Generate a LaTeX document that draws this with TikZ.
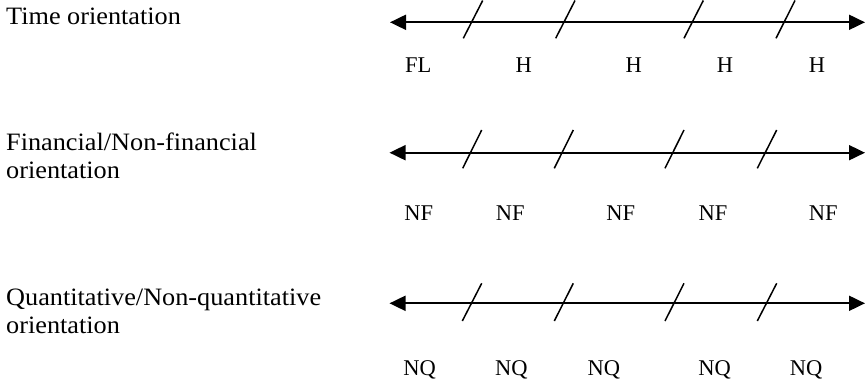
\documentclass[tikz,border=0pt]{standalone}
\usepackage{fontspec}
\setmainfont{Liberation Serif}
\newfontfamily\titleserif[FakeStretch=1.05]{Liberation Serif}
\usetikzlibrary{arrows.meta}
\begin{document}
\begin{tikzpicture}[x=1pt,y=-1pt,
  axisline/.style={line width=1.9pt,{Triangle[length=16pt,width=15pt]}-{Triangle[length=16pt,width=15pt]}},
  slashline/.style={line width=1.5pt},
  rowtitle/.style={anchor=base west,inner sep=0pt,font=\titleserif\fontsize{25}{28.5}\selectfont},
  marklabel/.style={anchor=base,inner sep=0pt,font=\fontsize{22.5}{26}\selectfont}]
\useasboundingbox (0,0) rectangle (865,383);
% row titles
\node[rowtitle] (t1) at (6,24) {Time orientation};
\node[rowtitle] (t2) at (6,150) {\begin{tabular}[t]{@{}l@{}}Financial/Non-financial\\orientation\end{tabular}};
\node[rowtitle] (t3) at (6,305) {\begin{tabular}[t]{@{}l@{}}Quantitative/Non-quantitative\\orientation\end{tabular}};
% axes
\coordinate (a1l) at (390,22.3);  \coordinate (a1r) at (865,22.3);
\coordinate (a2l) at (389.5,152.7); \coordinate (a2r) at (865,152.7);
\coordinate (a3l) at (389.5,303.3); \coordinate (a3r) at (865,303.3);
\draw[axisline] (a1l) -- (a1r);
\draw[axisline] (a2l) -- (a2r);
\draw[axisline] (a3l) -- (a3r);
% slashes row 1
\foreach \i/\xt/\xb in {1/482.7/463.3,2/575/555.7,3/703.3/684,4/795/776}{
  \coordinate (s1t\i) at (\xt,0.5); \coordinate (s1b\i) at (\xb,38.3);
  \draw[slashline] (s1t\i) -- (s1b\i);}
% slashes row 2
\foreach \i/\xt/\xb in {1/481.7/462.7,2/573.3/554.3,3/684/665,4/776.7/757.3}{
  \coordinate (s2t\i) at (\xt,130); \coordinate (s2b\i) at (\xb,168.3);
  \draw[slashline] (s2t\i) -- (s2b\i);}
% slashes row 3
\foreach \i/\xt/\xb in {1/481.7/462.3,2/573.3/554.3,3/684/665,4/776.7/757.3}{
  \coordinate (s3t\i) at (\xt,283.3); \coordinate (s3b\i) at (\xb,321);
  \draw[slashline] (s3t\i) -- (s3b\i);}
% labels row 1
\node[marklabel] (l11) at (418.3,72.3) {FL};
\node[marklabel] (l12) at (523.7,72.3) {H};
\node[marklabel] (l13) at (633.8,72.3) {H};
\node[marklabel] (l14) at (725,72.3) {H};
\node[marklabel] (l15) at (817,72.3) {H};
% labels row 2
\node[marklabel] (l21) at (418.7,220) {NF};
\node[marklabel] (l22) at (510.2,220) {NF};
\node[marklabel] (l23) at (620.8,220) {NF};
\node[marklabel] (l24) at (713,220) {NF};
\node[marklabel] (l25) at (823.3,220) {NF};
% labels row 3
\node[marklabel] (l31) at (419.5,375.5) {NQ};
\node[marklabel] (l32) at (511.3,375.5) {NQ};
\node[marklabel] (l33) at (603.8,375.5) {NQ};
\node[marklabel] (l34) at (714.7,375.5) {NQ};
\node[marklabel] (l35) at (806.2,375.5) {NQ};
\end{tikzpicture}
\end{document}
